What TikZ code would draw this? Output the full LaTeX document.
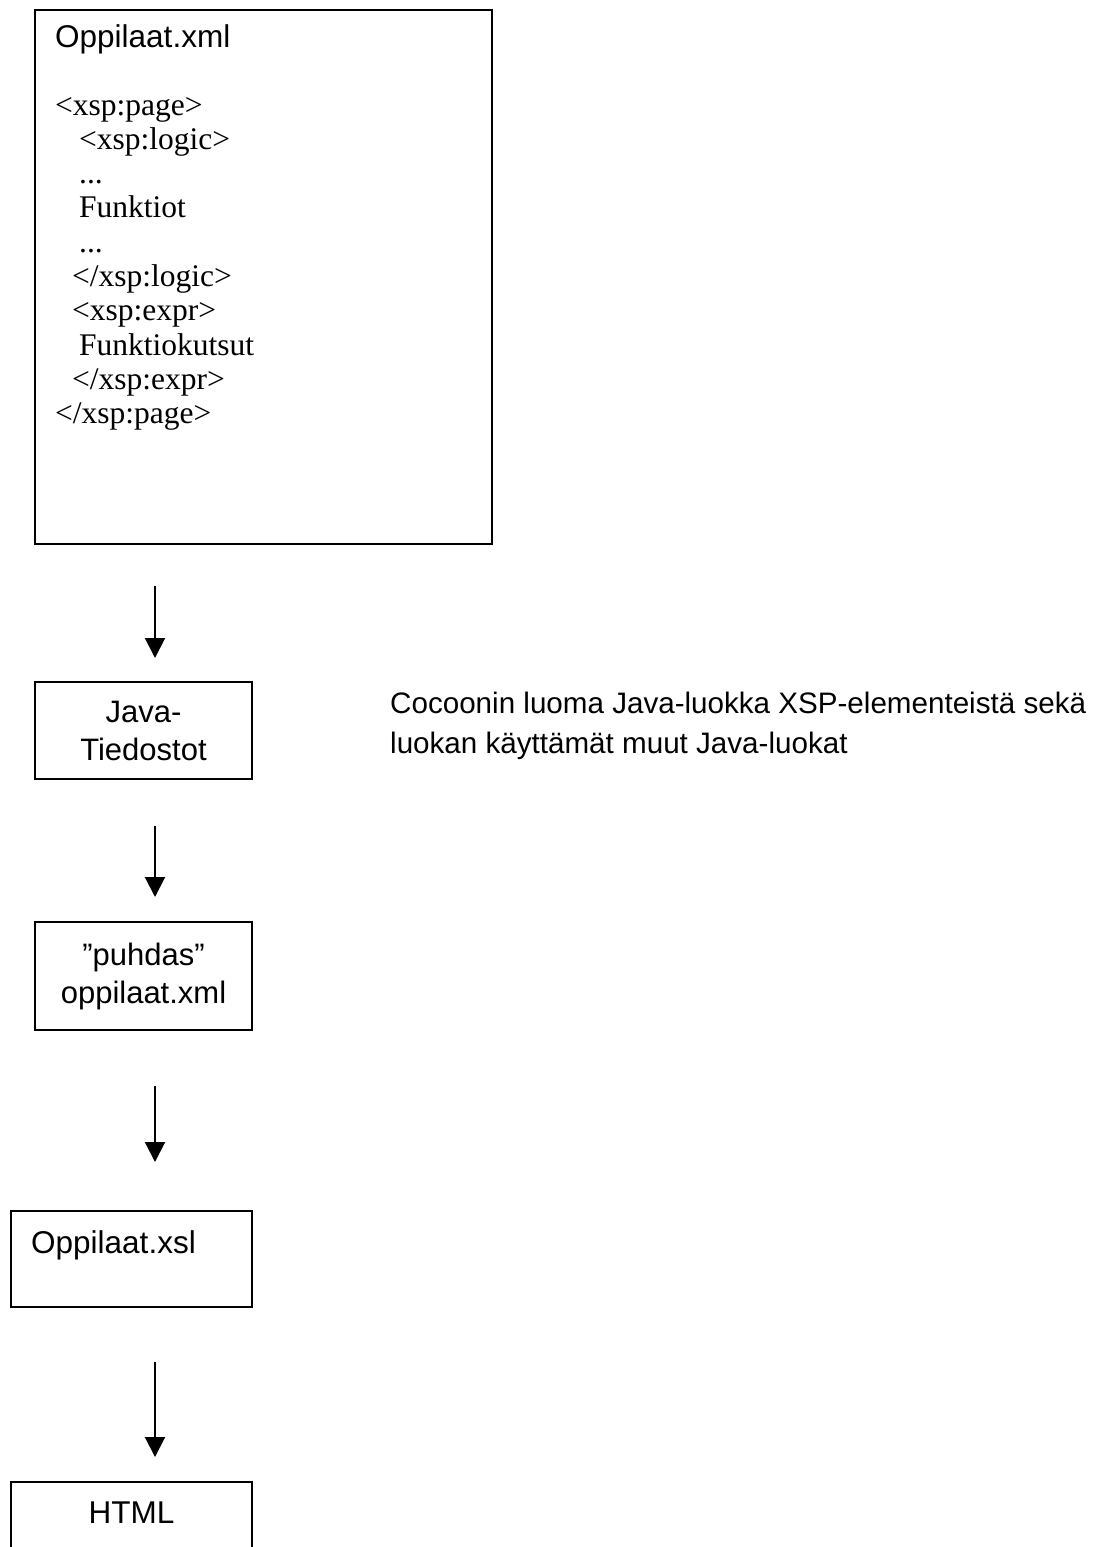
\documentclass[tikz,border=0pt]{standalone}
\usepackage{fontspec}
\setmainfont{Liberation Serif}
\setsansfont{Liberation Sans}
\usetikzlibrary{arrows.meta}

\tikzset{
  box/.style={draw, line width=2pt, inner sep=0pt, font=\sffamily\fontsize{31}{38}\selectfont},
  sans/.style={inner sep=0pt, font=\sffamily\fontsize{31.5}{38}\selectfont},
  code/.style={inner sep=0pt, anchor=base west, font=\rmfamily\fontsize{31.5}{34}\selectfont},
  flow/.style={line width=2pt, -{Triangle[width=20pt,length=20pt]}}
}

\begin{document}
\begin{tikzpicture}[x=1pt,y=-1pt]
    \useasboundingbox (0,0) rectangle (1098,1547);
    \clip (0,0) rectangle (1098,1547);

    % boxes
    \node[box, minimum width=457, minimum height=534] (xml) at (263.5,277) {};
    \node[box, minimum width=217, minimum height=97, align=center] (java) at (143.5,730.5) {Java-\\Tiedostot};
    \node[box, minimum width=217, minimum height=108, align=center] (puhdas) at (143.5,976) {”puhdas”\\oppilaat.xml};
    \node[box, minimum width=241, minimum height=96] (xsl) at (131.5,1259) {};
    \node[box, minimum width=241, minimum height=96] (html) at (131.5,1530) {};

    % texts
    \node[sans, anchor=base west] (xmltitle) at (55,47) {Oppilaat.xml};
    \foreach \ln/\ind [count=\i] in {{<xsp:page>}/0, {<xsp:logic>}/24, {...}/24, {Funktiot}/24, {...}/24,
        {</xsp:logic>}/17, {<xsp:expr>}/17, {Funktiokutsut}/24, {</xsp:expr>}/17, {</xsp:page>}/0}
        \node[code] (code\i) at (55+\ind, 80.7+34.3*\i) {\ln};
    \node[sans, anchor=base west] (xsltitle) at (31,1253) {Oppilaat.xsl};
    \node[sans, anchor=base] (htmltitle) at (131.5,1523) {HTML};
    \node[sans, anchor=west, align=left, font=\sffamily\fontsize{29.6}{40}\selectfont] (note) at (390,726)
        {Cocoonin luoma Java-luokka XSP-elementeistä sekä\\luokan käyttämät muut Java-luokat};

    % arrows
    \coordinate (a1s) at (155,586);  \coordinate (a1e) at (155,658);
    \coordinate (a2s) at (155,826);  \coordinate (a2e) at (155,897);
    \coordinate (a3s) at (155,1086); \coordinate (a3e) at (155,1162);
    \coordinate (a4s) at (155,1362); \coordinate (a4e) at (155,1457);
    \draw[flow] (a1s) -- (a1e); % xml -> java
    \draw[flow] (a2s) -- (a2e); % java -> puhdas
    \draw[flow] (a3s) -- (a3e); % puhdas -> xsl
    \draw[flow] (a4s) -- (a4e); % xsl -> html

\end{tikzpicture}
\end{document}
